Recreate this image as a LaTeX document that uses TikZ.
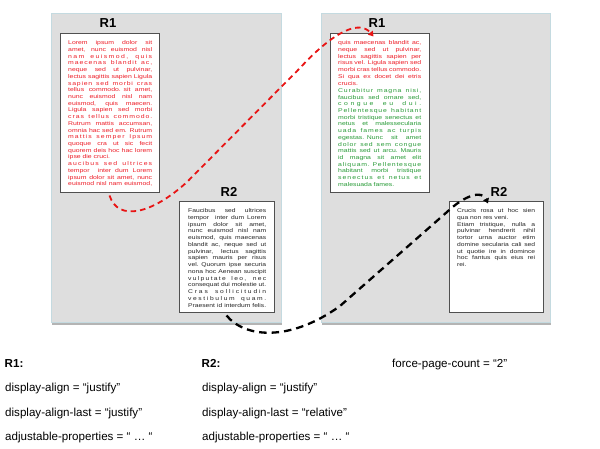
\documentclass[tikz,border=0pt]{standalone}
\usepackage{fontspec}
\setmainfont{Liberation Sans}
\newfontfamily\boxfont[FakeStretch=1.25]{Liberation Sans}
\newfontfamily\boxfontb[FakeStretch=1.22]{Liberation Sans}
\usetikzlibrary{arrows.meta}
\definecolor{pagegray}{RGB}{222,222,222}
\definecolor{pageedge}{RGB}{196,218,224}
\definecolor{pageshadow}{RGB}{180,180,180}
\definecolor{boxedge}{RGB}{80,80,80}
\definecolor{tred}{RGB}{238,30,40}
\definecolor{tgreen}{RGB}{40,155,55}
\definecolor{dred}{RGB}{232,20,20}
\chardef\lsclass=77
\newcount\mycnt
\mycnt=`a \loop \XeTeXcharclass\mycnt=\lsclass \ifnum\mycnt<`z \advance\mycnt 1 \repeat
\mycnt=`A \loop \XeTeXcharclass\mycnt=\lsclass \ifnum\mycnt<`Z \advance\mycnt 1 \repeat
\XeTeXcharclass`,=\lsclass
\XeTeXcharclass`.=\lsclass
\XeTeXinterchartoks\lsclass\lsclass={\hskip 0pt plus 1fil\relax}
\newcommand\jline[1]{\makebox[\hsize][s]{\spaceskip=.28em plus 1fil minus .1em\relax #1}}
\newcommand\sline[1]{\makebox[\hsize][s]{\XeTeXinterchartokenstate=1 \spaceskip=.3em plus 3fil\relax #1}}
\tikzset{
  page/.style={fill=pagegray, draw=pageedge, line width=0.6pt},
  pageshade/.style={fill=pageshadow, draw=none},
  region/.style={draw=boxedge, fill=white, line width=1pt, inner sep=0pt},
  rlabel/.style={font=\fontsize{13}{15}\selectfont\bfseries, inner sep=0pt},
  boxtext/.style={font=\boxfont\fontsize{5.5}{6.72}\selectfont, inner sep=0pt, anchor=north west, align=left},
  boxtextb/.style={font=\boxfontb\fontsize{5.5}{6.75}\selectfont, inner sep=0pt, anchor=north west, align=left},
  prop/.style={font=\fontsize{11.6}{14}\selectfont, inner sep=0pt, anchor=base west},
  flowred/.style={draw=dred, line width=1.8pt, dash pattern=on 5.5pt off 4pt, -{Triangle[length=5pt,width=6pt]}},
  flowblack/.style={draw=black, line width=2.3pt, dash pattern=on 7.5pt off 5pt, -{Triangle[length=5pt,width=6pt]}}
}
\begin{document}
\begin{tikzpicture}[x=1pt,y=-1pt]
\useasboundingbox (0,0) rectangle (600,449);
% pages
\fill[pageshade] (52,15.5) rectangle (282,324.5);
\fill[pageshade] (322,15.5) rectangle (551,324.5);
\draw[page] (51,13) rectangle (281,322);
\draw[page] (321,13) rectangle (550,322);
% region boxes
\node[region, minimum width=99pt, minimum height=159pt] (L1) at (109.5,113.5) {};
\node[region, minimum width=95pt, minimum height=110pt] (L2) at (226.5,257) {};
\node[region, minimum width=99pt, minimum height=159pt] (R1) at (379.5,113.5) {};
\node[region, minimum width=94pt, minimum height=110pt] (R2) at (496,257) {};
% labels
\node[rlabel] (lL1) at (108,23.5) {R1};
\node[rlabel] (lL2) at (229,191.5) {R2};
\node[rlabel] (lR1) at (377,23.5) {R1};
\node[rlabel] (lR2) at (499,191.5) {R2};
% texts
\node[boxtext, text width=84pt, text=tred] (tL1) at (68,40.5) {%
\jline{Lorem ipsum dolor sit}\\
\jline{amet, nunc euismod nisl}\\
\sline{nam euismod, quis}\\
\sline{maecenas blandit ac,}\\
\jline{neque sed ut pulvinar,}\\
\jline{lectus sagittis sapien Ligula}\\
\sline{sapien sed morbi cras}\\
\jline{tellus commodo. sit amet,}\\
\jline{nunc euismod nisl nam}\\
\jline{euismod, quis maecen.}\\
\jline{Ligula sapien sed morbi}\\
\sline{cras tellus commodo.}\\
\jline{Rutrum mattis accumsan,}\\
\jline{omnia hac sed em. Rutrum}\\
\sline{mattis semper Ipsum}\\
\jline{quoque cra ut sic fecit}\\
\jline{quorem deis hoc hac lorem}\\
ipse die cruci.\\
\sline{aucibus sed ultrices}\\
\jline{tempor \ inter dum Lorem}\\
\jline{ipsum dolor sit amet, nunc}\\
\jline{euismod nisl nam euismod,}};
\node[boxtext, text width=83pt, text=tred] (tR1) at (338,40.5) {%
\jline{quis maecenas blandit ac,}\\
\jline{neque sed ut pulvinar,}\\
\jline{lectus sagittis sapien per}\\
\jline{risus vel. Ligula sapien sed}\\
\jline{morbi cras tellus commodo.}\\
\jline{Si qua ex docet dei etris}\\
crucis.\\[0.6pt]
\color{tgreen}\sline{Curabitur magna nisi,}\\
\jline{faucibus sed ornare sed,}\\
\sline{congue eu dui.}\\
\sline{Pellentesque habitant}\\
\jline{morbi tristique senectus et}\\
\jline{netus et malessecularia}\\
\sline{uada fames ac turpis}\\
\jline{egestas. Nunc sit amet}\\
\sline{dolor sed sem congue}\\
\jline{mattis sed ut arcu. Mauris}\\
\jline{id magna sit amet elit}\\
\sline{aliquam. Pellentesque}\\
\jline{habitant morbi tristique}\\
\sline{senectus et netus et}\\
malesuada fames.};
\node[boxtextb, text width=78pt, text=black!85] (tL2) at (188,208.5) {%
\jline{Faucibus sed ultrices}\\
\jline{tempor \ inter dum Lorem}\\
\jline{ipsum dolor sit amet,}\\
\jline{nunc euismod nisl nam}\\
\jline{euismod, quis maecenas}\\
\jline{blandit ac, neque sed ut}\\
\jline{pulvinar, lectus sagittis}\\
\jline{sapien mauris per risus}\\
\jline{vel. Quorum ipse securia}\\
\jline{nona hoc Aenean suscipit}\\
\sline{vulputate leo, nec}\\
\jline{consequat dui molestie ut.}\\
\sline{Cras sollicitudin}\\
\sline{vestibulum quam.}\\
\jline{Praesent id interdum felis.}};
\node[boxtextb, text width=78pt, text=black!85] (tR2) at (457,208.5) {%
\jline{Crucis rosa ut hoc sien}\\
qua non res veni.\\
\jline{Etiam tristique, nulla a}\\
\jline{pulvinar hendrerit nihil}\\
\jline{tortor urna auctor etim}\\
\jline{domine secularia cali sed}\\
\jline{ut quotie ire in domince}\\
\jline{hoc fantus quis eius rei}\\
rei.};
% connectors
\draw[flowred] ([yshift=-2pt]L1.south) .. controls (118,222) and (152,214) .. (187,182)
  -- (300,68) .. controls (335,30) and (360,20) .. ([xshift=-6pt,yshift=-3pt]R1.north);
\draw[flowblack] ([yshift=-3pt]L2.south) .. controls (245,338) and (290,342) .. (340,306)
  -- (447,212) .. controls (465,195) and (482,190) .. ([xshift=-8pt,yshift=-2pt]R2.north);
% properties
\node[prop, font=\fontsize{11.6}{14}\selectfont\bfseries] (p1) at (4.5,367) {R1:};
\node[prop] (p2) at (5,391.5) {display-align = “justify”};
\node[prop] (p3) at (5,416) {display-align-last = “justify”};
\node[prop] (p4) at (5,440.5) {adjustable-properties = “ … “};
\node[prop, font=\fontsize{11.6}{14}\selectfont\bfseries] (p5) at (201.5,367) {R2:};
\node[prop] (p6) at (202,391.5) {display-align = “justify”};
\node[prop] (p7) at (202,416) {display-align-last = “relative”};
\node[prop] (p8) at (202,440.5) {adjustable-properties = “ … “};
\node[prop] (p9) at (392,367) {force-page-count = “2”};
\end{tikzpicture}
\end{document}
